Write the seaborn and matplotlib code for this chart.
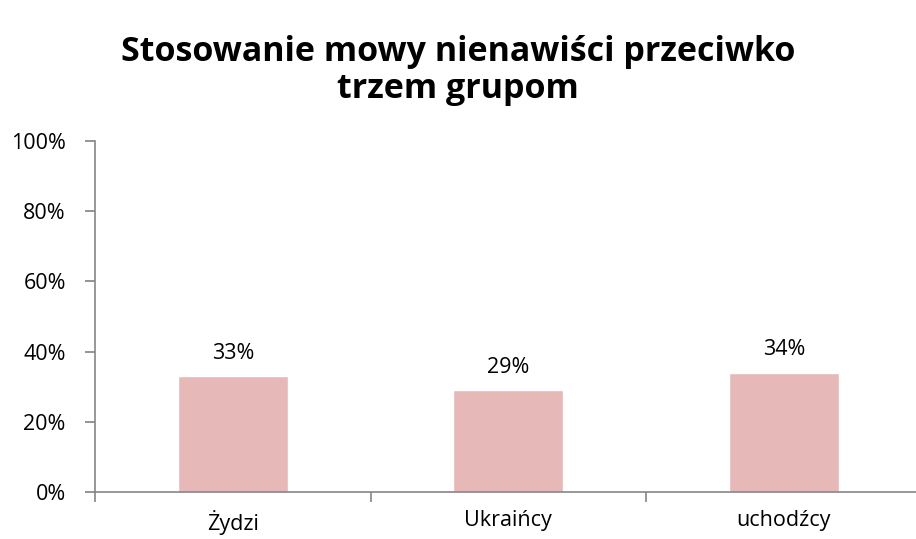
import matplotlib
matplotlib.use("Agg")
import matplotlib.pyplot as plt
import seaborn as sns
import pandas as pd
from matplotlib.ticker import FixedLocator, PercentFormatter

categories = ["Żydzi", "Ukraińcy", "uchodźcy"]
values = [33, 29, 34]
yticks = [0, 20, 40, 60, 80, 100]
title = "Stosowanie mowy nienawiści przeciwko\ntrzem grupom"

sns.set_theme(style="white")
plt.rcParams['font.family'] = ['Open Sans', 'DejaVu Sans']

df = pd.DataFrame({"grupa": categories, "wartosc": values})

fig = plt.figure(figsize=(9.16, 5.39), dpi=100)
ax = fig.add_axes([95/916, 47/539, 1 - 95/916, (492-141)/539])

sns.barplot(data=df, x="grupa", y="wartosc", color="#E6B9B8", width=0.4,
            saturation=1, ax=ax)

ax.set_xlim(-0.5, 2.48)
ax.set_ylim(0, 100)
ax.set_yticks(yticks)
ax.yaxis.set_major_formatter(PercentFormatter(decimals=0))
ax.set_xlabel("")
ax.set_ylabel("")

for s in ["top", "right"]:
    ax.spines[s].set_visible(False)
for s in ["left", "bottom"]:
    ax.spines[s].set_color("#868686")
    ax.spines[s].set_linewidth(1.2)

ax.tick_params(axis="y", which="major", left=True, length=7, color="#868686",
               labelsize=15.5, pad=14, labelcolor="black")
ax.tick_params(axis="x", which="major", bottom=False, labelsize=15.5, pad=7,
               labelcolor="black")
ax.xaxis.set_minor_locator(FixedLocator([-0.5, 0.5, 1.5, 2.5]))
ax.tick_params(axis="x", which="minor", bottom=True, length=7, color="#868686",
               width=1.2)

for i, v in enumerate(values):
    ax.text(i, v + 3.5, f"{v}%", ha="center", va="bottom", fontsize=15.5,
            color="black")

fig.text(0.5, 0.935, title, ha="center", va="top", fontsize=24.5,
         fontweight="bold", linespacing=1.12, color="black")

fig.savefig("out.png", dpi=100)
